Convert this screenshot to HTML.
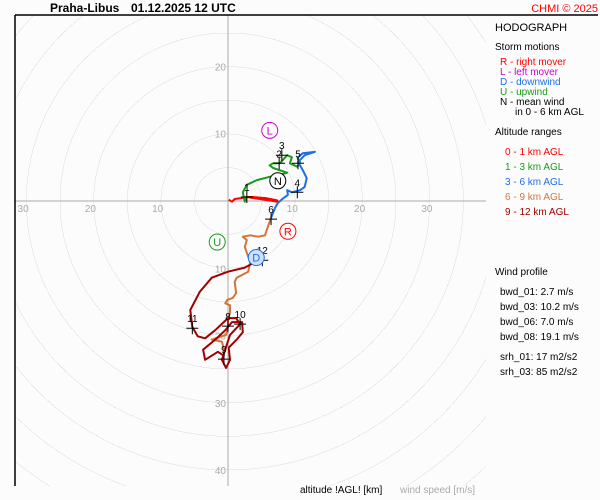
<!DOCTYPE html>
<html><head><meta charset="utf-8"><style>
html,body{margin:0;padding:0;background:#fcfcfc;overflow:hidden;width:600px;height:500px;position:relative;}
#rings{position:absolute;left:15px;top:15px;width:471px;height:471px;
background:repeating-radial-gradient(circle at 213px 186px, transparent 0, transparent 33.15px, #ddd 33.15px, #ddd 33.65px);}
svg{position:absolute;left:0;top:0;display:block;font-family:"Liberation Sans",sans-serif;}
</style></head><body>
<div id="rings"></div>
<svg id="c" width="600" height="500" viewBox="0 0 600 500">
<g id="grid"></g>
<g id="plot"></g>
<line x1="15" y1="15" x2="598" y2="15" stroke="#000" stroke-width="1.5"/>
<line x1="15" y1="15" x2="15" y2="486" stroke="#000" stroke-width="1.5"/>
<text x="50" y="12" font-size="12" font-weight="bold">Praha-Libus</text>
<text x="131" y="12" font-size="12" font-weight="bold">01.12.2025 12 UTC</text>
<text x="598" y="12" font-size="11" fill="#f00" text-anchor="end">CHMI © 2025</text>
<g font-size="10">
<text x="495" y="31" font-size="11">HODOGRAPH</text>
<text x="495" y="50">Storm motions</text>
<text x="500" y="65" fill="#f00">R - right mover</text>
<text x="500" y="75" fill="#c0c">L - left mover</text>
<text x="500" y="85" fill="#1e6ee6">D - downwind</text>
<text x="500" y="95" fill="#1a9a1a">U - upwind</text>
<text x="500" y="105">N - mean wind</text>
<text x="515" y="115">in 0 - 6 km AGL</text>
<text x="495" y="135">Altitude ranges</text>
<text x="505" y="155" fill="#f00">0 - 1 km AGL</text>
<text x="505" y="170" fill="#1a9a1a">1 - 3 km AGL</text>
<text x="505" y="185" fill="#1e6ee6">3 - 6 km AGL</text>
<text x="505" y="200" fill="#d2743c">6 - 9 km AGL</text>
<text x="505" y="215" fill="#a00000">9 - 12 km AGL</text>
<text x="495" y="275">Wind profile</text>
<text x="500" y="295">bwd_01: 2.7 m/s</text>
<text x="500" y="310">bwd_03: 10.2 m/s</text>
<text x="500" y="325">bwd_06: 7.0 m/s</text>
<text x="500" y="340">bwd_08: 19.1 m/s</text>
<text x="500" y="360">srh_01: 17 m2/s2</text>
<text x="500" y="375">srh_03: 85 m2/s2</text>
</g>
<text x="300" y="493" font-size="10">altitude !AGL! [km]</text>
<text x="400" y="493" font-size="10" fill="#aaa">wind speed [m/s]</text>
</svg>
<script>
const tickLabels=[10,20,30,40];
const redU=[0.1,0.6,1.0,1.8,2.8,3.7,5.8,7.3,7.4,5.5,2.8];
const redV=[0.2,-0.1,0.3,0.4,0.6,0.6,0.4,0.1,-0.1,0.2,0.6];
const greenU=[2.8,2.5,2.2,2.8,4.3,6.2,7.7,8.8,6.7,6.2,6.7,7.7,8.8,9.5,9.2,10.3,10.7,10.3];
const greenV=[0.6,-0.1,1.3,2.4,3.1,3.6,3.9,4.2,4.9,5.3,5.6,5.6,6.8,6.5,5.6,5.1,5.8,6.4];
const blueU=[10.3,11.1,12.9,11.4,10.4,11.1,11.7,11.4,10.7,9.5,8.8,8.9,8.2,7.4,7.0,6.4];
const blueV=[6.4,7.1,7.3,6.8,5.8,4.6,3.4,2.1,1.6,1.3,1.6,0.9,0.4,-0.3,-1.0,-2.5];
const orangeU=[6.4,5.9,5.5,4.5,3.3,2.2,2.8,2.5,2.8,3.3,3.0,1.3,1.0,1.2,0.7,-0.1,-0.4,0.3,0.3,0,0,-0.3,-2.4,-0.9,-0.6,-0.6];
const orangeV=[-2.5,-3.9,-5.1,-5.3,-5.1,-5.3,-5.8,-6.8,-7.7,-9.1,-10.5,-11.4,-12.0,-13.7,-14.4,-14.7,-15.2,-15.5,-16.5,-17.7,-18.7,-19.9,-20.6,-20.9,-22.1,-23.0];
const darkU=[-0.6,-1.5,-3.4,-3.7,-1.9,-0.4,0.6,2.1,2.2,1.3,0.1,0.3,-0.3,-0.9,0.3,1.8,1.2,0,-1.9,-3.4,-4.5,-5.3,-5.6,-4.2,-2.4,0,2.5,4.0,5.1];
const darkV=[-23.0,-22.4,-23.6,-22.1,-20.6,-19.2,-18.0,-18.0,-19.5,-20.6,-21.8,-23.6,-24.8,-23.6,-19.9,-18.3,-17.4,-17.4,-19.2,-20.4,-20.1,-18.7,-16.2,-13.5,-11.4,-10.5,-9.9,-9.1,-8.8];
const markLabels=["1","2","3","4","5","6","8","9","10","11","12"];
const markU=[2.8,7.6,8.0,10.3,10.4,6.4,0,-0.6,1.8,-5.3,5.1];
const markV=[0.6,5.6,6.8,1.3,5.6,-2.7,-18.6,-23.5,-18.3,-18.9,-8.8];
const stormLabels=["R","L","D","U","N"];
const stormU=[8.9,6.2,4.2,-1.6,7.4];
const stormV=[-4.5,10.5,-8.4,-6.1,3.0];

const CX=228,CY=201,K=6.73;
const sx=u=>CX+u*K, sy=v=>CY-v*K;
const NS="http://www.w3.org/2000/svg";
function mk(t,a,p){const e=document.createElementNS(NS,t);for(const k in a)e.setAttribute(k,a[k]);p.appendChild(e);return e;}
const grid=document.getElementById('grid'), plot=document.getElementById('plot');
let a=mk('line',{x1:15,y1:CY,x2:486,y2:CY,stroke:'#aaa'},grid);


a=mk('line',{x1:CX,y1:15,x2:CX,y2:486,stroke:'#aaa'},grid);


tickLabels.forEach(t=>{
 [[sx(-t)-3,CY+11],[sx(t)-3,CY+11]].forEach(p=>{if(p[0]>15&&p[0]<480){const e=mk('text',{x:p[0],y:p[1],'font-size':10,fill:'#aaa','text-anchor':'middle'},grid);e.textContent=t;
 
 }});
 [[CX-2,sy(t)+4],[CX-2,sy(-t)+4]].forEach(p=>{if(p[1]>20&&p[1]<484){const e=mk('text',{x:p[0],y:p[1],'font-size':10,fill:'#aaa','text-anchor':'end'},grid);e.textContent=t;
 
 }});
});
function path(U,V,col,name){const d=U.map((u,i)=>(i?'L':'M')+sx(u).toFixed(1)+','+sy(V[i]).toFixed(1)).join('');
 const p=mk('path',{d:d,fill:'none',stroke:col,'stroke-width':2,'stroke-linejoin':'round'},plot);
 
 }
path(redU,redV,'#f00','hodo-0-1km');
path(greenU,greenV,'#1a9a1a','hodo-1-3km');
path(blueU,blueV,'#1e6ee6','hodo-3-6km');
path(orangeU,orangeV,'#d2743c','hodo-6-9km');
path(darkU,darkV,'#a00000','hodo-9-12km');
markLabels.forEach((l,i)=>{const x=sx(markU[i]),y=sy(markV[i]);
 const g=mk('g',{},plot);
 
 
 mk('path',{d:`M${x-6},${y}H${x+6}M${x},${y-6}V${y+6}`,stroke:'#000','stroke-width':1},g);
 const t=mk('text',{x:x,y:y-6,'font-size':10,'text-anchor':'middle'},g);t.textContent=l;});
const sc={R:['#f00','none'],L:['#c0c','none'],D:['#1e6ee6','#cfe0fa'],U:['#1a9a1a','none'],N:['#000','#fff']};
stormLabels.forEach((l,i)=>{const x=sx(stormU[i]),y=sy(stormV[i]);
 const g=mk('g',{},plot);
 
 
 mk('circle',{cx:x,cy:y,r:8,fill:sc[l][1],stroke:sc[l][0],'stroke-width':1},g);
 const t=mk('text',{x:x,y:y+4,'font-size':11,'text-anchor':'middle',fill:sc[l][0]},g);t.textContent=l;});
</script>
</body></html>
